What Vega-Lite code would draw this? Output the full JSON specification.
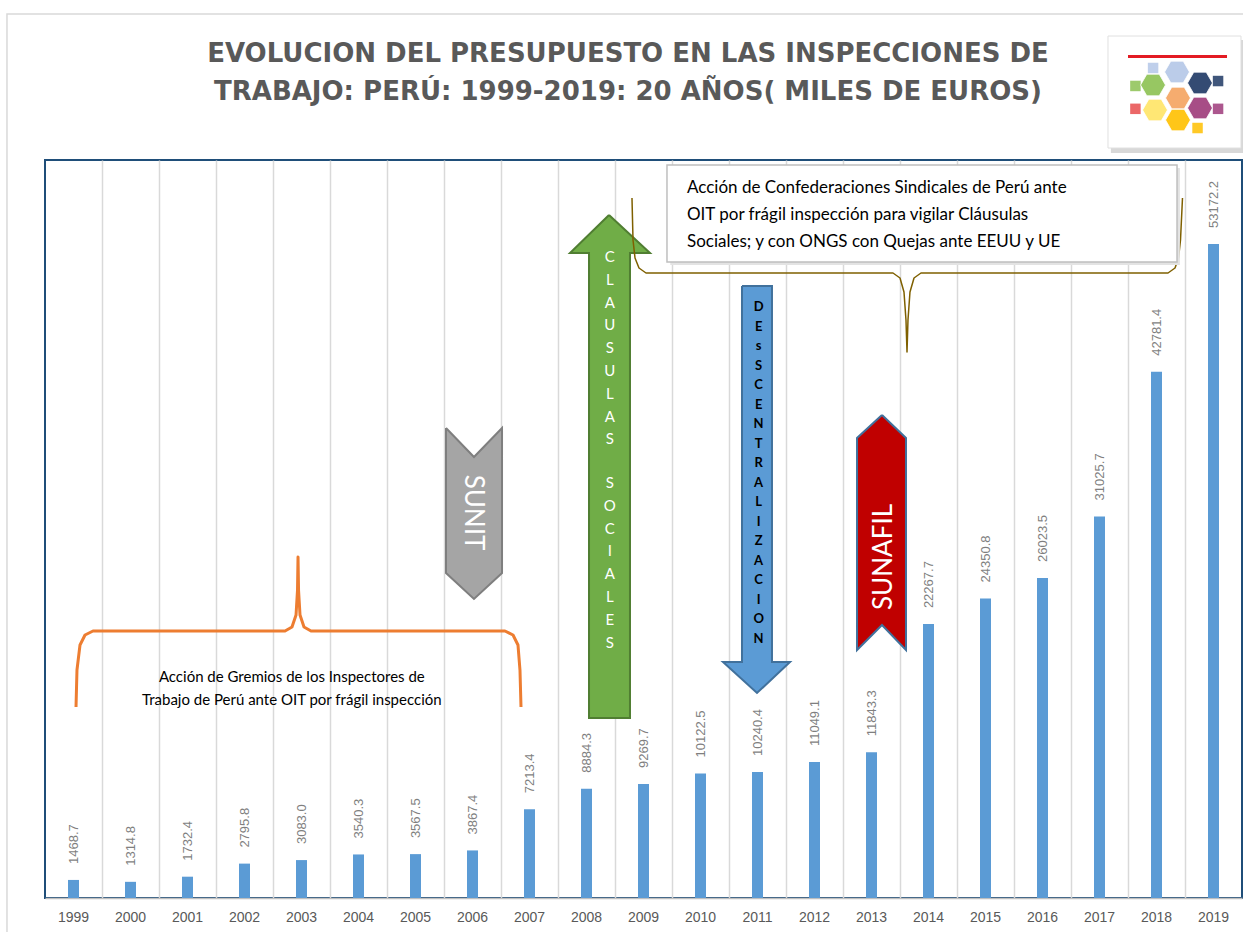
{
  "$schema": "https://vega.github.io/schema/vega-lite/v6.json",
  "width": 1197,
  "height": 738,
  "autosize": {"type": "none"},
  "padding": {"left": 45, "top": 160, "right": 1, "bottom": 34},
  "background": "white",
  "config": {"view": {"stroke": "#1f4e79", "strokeWidth": 2}, "font": "Lato"},
  "datasets": {
    "budget": [
      {"year": "1999", "value": 1468.7},
      {"year": "2000", "value": 1314.8},
      {"year": "2001", "value": 1732.4},
      {"year": "2002", "value": 2795.8},
      {"year": "2003", "value": 3083.0},
      {"year": "2004", "value": 3540.3},
      {"year": "2005", "value": 3567.5},
      {"year": "2006", "value": 3867.4},
      {"year": "2007", "value": 7213.4},
      {"year": "2008", "value": 8884.3},
      {"year": "2009", "value": 9269.7},
      {"year": "2010", "value": 10122.5},
      {"year": "2011", "value": 10240.4},
      {"year": "2012", "value": 11049.1},
      {"year": "2013", "value": 11843.3},
      {"year": "2014", "value": 22267.7},
      {"year": "2015", "value": 24350.8},
      {"year": "2016", "value": 26023.5},
      {"year": "2017", "value": 31025.7},
      {"year": "2018", "value": 42781.4},
      {"year": "2019", "value": 53172.2}
    ],
    "shapes": [
      {"shape": "sunit", "i": 1, "x": 2005.535, "y": 38211},
      {"shape": "sunit", "i": 2, "x": 2006.026, "y": 35853},
      {"shape": "sunit", "i": 3, "x": 2006.518, "y": 38211},
      {"shape": "sunit", "i": 4, "x": 2006.518, "y": 26423},
      {"shape": "sunit", "i": 5, "x": 2006.026, "y": 24309},
      {"shape": "sunit", "i": 6, "x": 2005.535, "y": 26423},
      {"shape": "sunit", "i": 7, "x": 2005.535, "y": 38211},
      {"shape": "green", "i": 1, "x": 2008.395, "y": 55528},
      {"shape": "green", "i": 2, "x": 2009.114, "y": 52439},
      {"shape": "green", "i": 3, "x": 2008.763, "y": 52439},
      {"shape": "green", "i": 4, "x": 2008.763, "y": 14634},
      {"shape": "green", "i": 5, "x": 2008.044, "y": 14634},
      {"shape": "green", "i": 6, "x": 2008.044, "y": 52439},
      {"shape": "green", "i": 7, "x": 2007.711, "y": 52439},
      {"shape": "green", "i": 8, "x": 2008.395, "y": 55528},
      {"shape": "blue", "i": 1, "x": 2010.728, "y": 49756},
      {"shape": "blue", "i": 2, "x": 2011.254, "y": 49756},
      {"shape": "blue", "i": 3, "x": 2011.254, "y": 19187},
      {"shape": "blue", "i": 4, "x": 2011.570, "y": 19187},
      {"shape": "blue", "i": 5, "x": 2010.991, "y": 16667},
      {"shape": "blue", "i": 6, "x": 2010.395, "y": 19187},
      {"shape": "blue", "i": 7, "x": 2010.728, "y": 19187},
      {"shape": "blue", "i": 8, "x": 2010.728, "y": 49756},
      {"shape": "red", "i": 1, "x": 2013.184, "y": 39268},
      {"shape": "red", "i": 2, "x": 2013.605, "y": 37398},
      {"shape": "red", "i": 3, "x": 2013.605, "y": 20162},
      {"shape": "red", "i": 4, "x": 2013.184, "y": 22195},
      {"shape": "red", "i": 5, "x": 2012.746, "y": 20162},
      {"shape": "red", "i": 6, "x": 2012.746, "y": 37398},
      {"shape": "red", "i": 7, "x": 2013.184, "y": 39268},
      {"shape": "brace_low", "i": 1, "x": 1999.044, "y": 15528},
      {"shape": "brace_low", "i": 2, "x": 1999.061, "y": 18536},
      {"shape": "brace_low", "i": 3, "x": 1999.114, "y": 20569},
      {"shape": "brace_low", "i": 4, "x": 1999.202, "y": 21382},
      {"shape": "brace_low", "i": 5, "x": 1999.342, "y": 21707},
      {"shape": "brace_low", "i": 6, "x": 2002.711, "y": 21707},
      {"shape": "brace_low", "i": 7, "x": 2002.833, "y": 22032},
      {"shape": "brace_low", "i": 8, "x": 2002.904, "y": 23008},
      {"shape": "brace_low", "i": 9, "x": 2002.930, "y": 25040},
      {"shape": "brace_low", "i": 10, "x": 2002.939, "y": 27723},
      {"shape": "brace_low", "i": 11, "x": 2002.948, "y": 25040},
      {"shape": "brace_low", "i": 12, "x": 2002.974, "y": 23008},
      {"shape": "brace_low", "i": 13, "x": 2003.044, "y": 22032},
      {"shape": "brace_low", "i": 14, "x": 2003.167, "y": 21707},
      {"shape": "brace_low", "i": 15, "x": 2006.570, "y": 21707},
      {"shape": "brace_low", "i": 16, "x": 2006.711, "y": 21382},
      {"shape": "brace_low", "i": 17, "x": 2006.798, "y": 20569},
      {"shape": "brace_low", "i": 18, "x": 2006.833, "y": 18536},
      {"shape": "brace_low", "i": 19, "x": 2006.851, "y": 15528},
      {"shape": "brace_top", "i": 1, "x": 2008.798, "y": 56910},
      {"shape": "brace_top", "i": 2, "x": 2008.816, "y": 53495},
      {"shape": "brace_top", "i": 3, "x": 2008.851, "y": 52032},
      {"shape": "brace_top", "i": 4, "x": 2008.921, "y": 51219},
      {"shape": "brace_top", "i": 5, "x": 2009.044, "y": 50813},
      {"shape": "brace_top", "i": 6, "x": 2013.377, "y": 50813},
      {"shape": "brace_top", "i": 7, "x": 2013.500, "y": 50406},
      {"shape": "brace_top", "i": 8, "x": 2013.570, "y": 49268},
      {"shape": "brace_top", "i": 9, "x": 2013.605, "y": 46991},
      {"shape": "brace_top", "i": 10, "x": 2013.623, "y": 44390},
      {"shape": "brace_top", "i": 11, "x": 2013.640, "y": 46991},
      {"shape": "brace_top", "i": 12, "x": 2013.675, "y": 49268},
      {"shape": "brace_top", "i": 13, "x": 2013.746, "y": 50406},
      {"shape": "brace_top", "i": 14, "x": 2013.868, "y": 50813},
      {"shape": "brace_top", "i": 15, "x": 2018.202, "y": 50813},
      {"shape": "brace_top", "i": 16, "x": 2018.325, "y": 51219},
      {"shape": "brace_top", "i": 17, "x": 2018.386, "y": 52032},
      {"shape": "brace_top", "i": 18, "x": 2018.421, "y": 53495},
      {"shape": "brace_top", "i": 19, "x": 2018.456, "y": 56910}
    ],
    "boxes": [
      {"box": "frame", "x": 1997.833, "x2": 2020.2, "y": 71869, "y2": -3000},
      {"box": "note_shadow", "x": 2009.47, "x2": 2018.41, "y": 59350, "y2": 51460},
      {"box": "note_box", "x": 2009.412, "x2": 2018.36, "y": 59593, "y2": 51707},
      {"box": "logo_shadow", "x": 2017.2, "x2": 2019.55, "y": 69760, "y2": 60570},
      {"box": "logo_box", "x": 2017.149, "x2": 2019.482, "y": 70081, "y2": 60975},
      {"box": "red_bar", "x": 2017.5, "x2": 2019.237, "y": 68536, "y2": 68292}
    ],
    "logo": [
      {"part": "azul claro", "x": 2018.36, "y": 67155},
      {"part": "verde", "x": 2017.939, "y": 66097},
      {"part": "azul oscuro", "x": 2018.763, "y": 66260},
      {"part": "amarillo", "x": 2017.974, "y": 64064},
      {"part": "morado", "x": 2018.763, "y": 64227},
      {"part": "dorado", "x": 2018.377, "y": 63251},
      {"part": "naranja", "x": 2018.377, "y": 65040}
    ],
    "logo_tags": [
      {"part": "azul claro", "x": 2017.94, "y": 67480},
      {"part": "azul oscuro", "x": 2019.08, "y": 66420},
      {"part": "verde", "x": 2017.63, "y": 66020},
      {"part": "rojo", "x": 2017.63, "y": 64160},
      {"part": "morado", "x": 2019.08, "y": 64160},
      {"part": "dorado", "x": 2018.72, "y": 62600}
    ],
    "notes": [
      {"note": "title", "x": 2008.728, "y": 67967, "label": "EVOLUCION DEL PRESUPUESTO EN LAS INSPECCIONES DE\nTRABAJO: PERÚ: 1999-2019: 20 AÑOS( MILES DE EUROS)"},
      {"note": "brace_text", "x": 2002.83, "y": 17967, "label": "Acción de Gremios de los Inspectores de\nTrabajo de Perú ante OIT por frágil inspección"},
      {"note": "box_text", "x": 2009.763, "y": 57723, "label": "Acción de Confederaciones Sindicales de Perú ante\nOIT por frágil inspección para vigilar Cláusulas\nSociales; y con ONGS con Quejas ante EEUU y UE"},
      {"note": "sunit", "x": 2006.01, "y": 31341, "label": "SUNIT"},
      {"note": "sunafil", "x": 2013.22, "y": 27723, "label": "SUNAFIL"},
      {"note": "clausulas", "x": 2008.41, "y": 52113, "label": "C\nL\nA\nU\nS\nU\nL\nA\nS"},
      {"note": "clausulas", "x": 2008.41, "y": 33740, "label": "S\nO\nC\nI\nA\nL\nE\nS"},
      {"note": "descentralizacion", "x": 2011.02, "y": 48048, "label": "D\nE\ns\nS\nC\nE\nN\nT\nR\nA\nL\nI\nZ\nA\nC\nI\nO\nN"}
    ]
  },
  "layer": [
    {
      "data": {"name": "budget"},
      "encoding": {
        "x": {
          "field": "year",
          "type": "ordinal",
          "scale": {"paddingInner": 0, "paddingOuter": 0},
          "axis": {
            "title": null,
            "labelAngle": 0,
            "labelFont": "Liberation Sans",
            "labelFontSize": 14,
            "labelColor": "#595959",
            "labelPadding": 12,
            "ticks": false,
            "grid": false,
            "domainColor": "#bfbfbf",
            "domainWidth": 1.5
          }
        },
        "y": {
          "field": "value",
          "type": "quantitative",
          "scale": {"domain": [0, 60000], "nice": false},
          "axis": null
        }
      },
      "layer": [
        {"mark": {"type": "bar", "width": 11, "color": "#5b9bd5"}},
        {
          "mark": {"type": "text", "angle": 270, "align": "left", "baseline": "middle", "dx": 16, "font": "Liberation Sans", "fontSize": 13, "color": "#7f7f7f"},
          "encoding": {"text": {"field": "value", "type": "quantitative", "format": ".1f"}}
        }
      ]
    },
    {
      "encoding": {
        "x": {
          "field": "x",
          "type": "quantitative",
          "scale": {"domain": [1998.5, 2019.5], "nice": false, "zero": false},
          "axis": {
            "orient": "top",
            "title": null,
            "values": [1999.5, 2000.5, 2001.5, 2002.5, 2003.5, 2004.5, 2005.5, 2006.5, 2007.5, 2008.5, 2009.5, 2010.5, 2011.5, 2012.5, 2013.5, 2014.5, 2015.5, 2016.5, 2017.5, 2018.5],
            "grid": true,
            "gridColor": "#d9d9d9",
            "gridWidth": 1.5,
            "labels": false,
            "ticks": false,
            "domain": false
          }
        },
        "y": {
          "field": "y",
          "type": "quantitative",
          "scale": {"domain": [0, 60000], "nice": false},
          "axis": null
        }
      },
      "layer": [
        {
          "data": {"name": "boxes"},
          "transform": [{"filter": {"field": "box", "equal": "frame"}}],
          "mark": {"type": "rect", "filled": false, "color": "#d9d9d9", "strokeWidth": 1.5},
          "encoding": {"x2": {"field": "x2"}, "y2": {"field": "y2"}}
        },
        {
          "data": {"name": "shapes"},
          "transform": [{"filter": {"field": "shape", "equal": "sunit"}}],
          "mark": {"type": "line", "fill": "#a5a5a5", "stroke": "#7f7f7f", "strokeWidth": 2, "strokeJoin": "miter"},
          "encoding": {"order": {"field": "i", "type": "quantitative"}}
        },
        {
          "data": {"name": "shapes"},
          "transform": [{"filter": {"field": "shape", "equal": "green"}}],
          "mark": {"type": "line", "fill": "#70ad47", "stroke": "#507e32", "strokeWidth": 2, "strokeJoin": "miter"},
          "encoding": {"order": {"field": "i", "type": "quantitative"}}
        },
        {
          "data": {"name": "shapes"},
          "transform": [{"filter": {"field": "shape", "equal": "blue"}}],
          "mark": {"type": "line", "fill": "#5b9bd5", "stroke": "#41719c", "strokeWidth": 2, "strokeJoin": "miter"},
          "encoding": {"order": {"field": "i", "type": "quantitative"}}
        },
        {
          "data": {"name": "shapes"},
          "transform": [{"filter": {"field": "shape", "equal": "red"}}],
          "mark": {"type": "line", "fill": "#c00000", "stroke": "#41719c", "strokeWidth": 2, "strokeJoin": "miter"},
          "encoding": {"order": {"field": "i", "type": "quantitative"}}
        },
        {
          "data": {"name": "shapes"},
          "transform": [{"filter": {"field": "shape", "equal": "brace_low"}}],
          "mark": {"type": "line", "stroke": "#ed7d31", "strokeWidth": 3, "strokeJoin": "round", "strokeCap": "butt"},
          "encoding": {"order": {"field": "i", "type": "quantitative"}}
        },
        {
          "data": {"name": "shapes"},
          "transform": [{"filter": {"field": "shape", "equal": "brace_top"}}],
          "mark": {"type": "line", "stroke": "#7f6000", "strokeWidth": 1.5, "strokeJoin": "round"},
          "encoding": {"order": {"field": "i", "type": "quantitative"}}
        },
        {
          "data": {"name": "boxes"},
          "transform": [{"filter": {"field": "box", "equal": "note_shadow"}}],
          "mark": {"type": "rect", "color": "#e3e3e3"},
          "encoding": {"x2": {"field": "x2"}, "y2": {"field": "y2"}}
        },
        {
          "data": {"name": "boxes"},
          "transform": [{"filter": {"field": "box", "equal": "note_box"}}],
          "mark": {"type": "rect", "fill": "white", "stroke": "#bfbfbf", "strokeWidth": 1.5},
          "encoding": {"x2": {"field": "x2"}, "y2": {"field": "y2"}}
        },
        {
          "data": {"name": "boxes"},
          "transform": [{"filter": {"field": "box", "equal": "logo_shadow"}}],
          "mark": {"type": "rect", "color": "#c8c8c8", "opacity": 0.7},
          "encoding": {"x2": {"field": "x2"}, "y2": {"field": "y2"}}
        },
        {
          "data": {"name": "boxes"},
          "transform": [{"filter": {"field": "box", "equal": "logo_box"}}],
          "mark": {"type": "rect", "fill": "white", "stroke": "#e0e0e0", "strokeWidth": 1},
          "encoding": {"x2": {"field": "x2"}, "y2": {"field": "y2"}}
        },
        {
          "data": {"name": "boxes"},
          "transform": [{"filter": {"field": "box", "equal": "red_bar"}}],
          "mark": {"type": "rect", "color": "#e31b23"},
          "encoding": {"x2": {"field": "x2"}, "y2": {"field": "y2"}}
        },
        {
          "data": {"name": "logo_tags"},
          "mark": {"type": "square", "size": 110, "opacity": 0.85},
          "encoding": {
            "color": {"field": "part", "type": "nominal", "legend": null,
              "scale": {"domain": ["azul claro", "verde", "azul oscuro", "naranja", "amarillo", "morado", "dorado", "rojo"],
                        "range": ["#b4c7e7", "#8cc152", "#1f3864", "#f4a460", "#ffe566", "#9e3a7a", "#ffc000", "#e84c4c"]}}
          }
        },
        {
          "data": {"name": "logo"},
          "mark": {"type": "point", "shape": "M-1,0L-0.5,-0.87L0.5,-0.87L1,0L0.5,0.87L-0.5,0.87Z", "filled": true, "size": 620, "opacity": 0.9, "stroke": "white", "strokeWidth": 0.8},
          "encoding": {
            "color": {"field": "part", "type": "nominal", "legend": null}
          }
        },
        {
          "data": {"name": "notes"},
          "transform": [{"filter": {"field": "note", "equal": "title"}}],
          "mark": {"type": "text", "font": "DejaVu Sans", "fontWeight": "bold", "fontSize": 26, "color": "#595959", "align": "center", "baseline": "alphabetic", "lineBreak": "\n", "lineHeight": 38},
          "encoding": {"text": {"field": "label"}}
        },
        {
          "data": {"name": "notes"},
          "transform": [{"filter": {"field": "note", "equal": "brace_text"}}],
          "mark": {"type": "text", "font": "Lato", "fontSize": 15, "color": "#000000", "align": "center", "baseline": "middle", "lineBreak": "\n", "lineHeight": 22.5},
          "encoding": {"text": {"field": "label"}}
        },
        {
          "data": {"name": "notes"},
          "transform": [{"filter": {"field": "note", "equal": "box_text"}}],
          "mark": {"type": "text", "font": "Lato", "fontSize": 17, "color": "#000000", "align": "left", "baseline": "middle", "lineBreak": "\n", "lineHeight": 27},
          "encoding": {"text": {"field": "label"}}
        },
        {
          "data": {"name": "notes"},
          "transform": [{"filter": {"field": "note", "equal": "sunit"}}],
          "mark": {"type": "text", "font": "Lato", "fontSize": 26, "color": "white", "align": "center", "baseline": "middle", "angle": 90},
          "encoding": {"text": {"field": "label"}}
        },
        {
          "data": {"name": "notes"},
          "transform": [{"filter": {"field": "note", "equal": "sunafil"}}],
          "mark": {"type": "text", "font": "Lato", "fontSize": 26, "color": "white", "align": "center", "baseline": "middle", "angle": 270},
          "encoding": {"text": {"field": "label"}}
        },
        {
          "data": {"name": "notes"},
          "transform": [{"filter": {"field": "note", "equal": "clausulas"}}],
          "mark": {"type": "text", "font": "Lato", "fontSize": 15, "color": "white", "align": "center", "baseline": "middle", "lineBreak": "\n", "lineHeight": 22.8},
          "encoding": {"text": {"field": "label"}}
        },
        {
          "data": {"name": "notes"},
          "transform": [{"filter": {"field": "note", "equal": "descentralizacion"}}],
          "mark": {"type": "text", "font": "Lato", "fontWeight": "bold", "fontSize": 13, "color": "#000000", "align": "center", "baseline": "middle", "lineBreak": "\n", "lineHeight": 19.5},
          "encoding": {"text": {"field": "label"}}
        }
      ]
    }
  ],
  "resolve": {"scale": {"x": "independent"}, "axis": {"x": "independent"}}
}
